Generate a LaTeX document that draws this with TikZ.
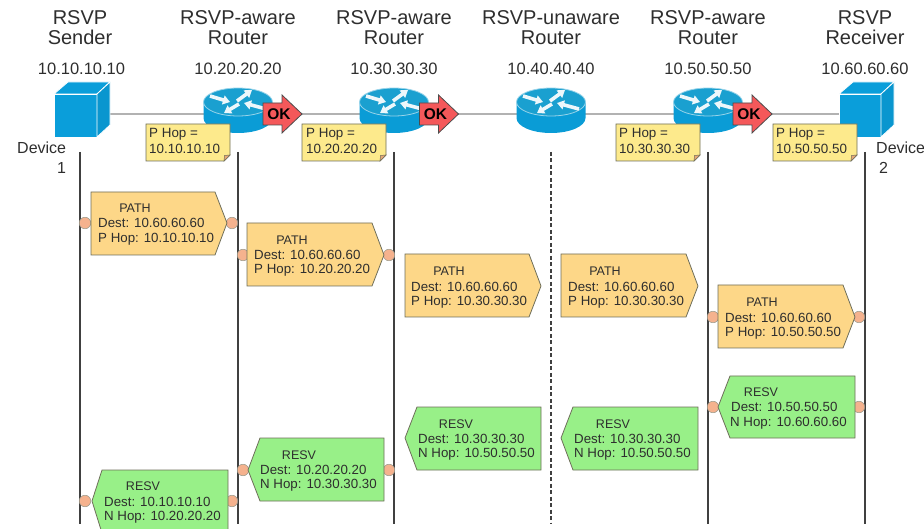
\documentclass[tikz,border=0pt]{standalone}
\usepackage{fontspec}
\usetikzlibrary{arrows.meta}
\setmainfont{Liberation Sans}
\newlength{\du}
\setlength{\du}{1pt}
\definecolor{routerside}{HTML}{0A9CD6}
\definecolor{routertop}{HTML}{1AA0D0}
\definecolor{cubeface}{HTML}{0A9EDA}
\definecolor{okred}{HTML}{F4585A}
\definecolor{notefill}{HTML}{FDEA8C}
\definecolor{foldfill}{HTML}{E8A878}
\definecolor{pathfill}{HTML}{FDD788}
\definecolor{resvfill}{HTML}{98F088}
\definecolor{portfill}{HTML}{F5B28E}
\definecolor{boxline}{HTML}{6E6E5A}
\definecolor{labelgray}{HTML}{2E2E2E}
\tikzset{
  header/.style={inner sep=0pt,align=center,text=labelgray,font=\fontsize{20}{20}\selectfont},
  address/.style={inner sep=0pt,text=labelgray,font=\fontsize{16.5}{18}\selectfont},
  devicelabel/.style={inner sep=0pt,text=labelgray,font=\fontsize{16}{18}\selectfont},
  notetext/.style={inner sep=0pt,anchor=west,text=labelgray,font=\fontsize{13.4}{14}\selectfont},
  boxtext/.style={inner sep=0pt,anchor=west,text=labelgray,font=\fontsize{13.3}{14}\selectfont},
  boxtitle/.style={inner sep=0pt,text=labelgray,font=\fontsize{12.5}{14}\selectfont},
  port/.style={circle,draw=boxline!70,line width=0.5\du,fill=portfill,minimum size=11.500000\du,inner sep=0pt},
  lifeline/.style={draw=black!75,line width=1.6\du},
  link/.style={draw=black!30,line width=2.4\du},
  pathbox/.style={draw=boxline,line width=0.8\du,fill=pathfill},
  resvbox/.style={draw=boxline,line width=0.8\du,fill=resvfill},
  notebox/.style={draw=boxline,line width=0.8\du,fill=notefill},
  routerarrow/.style={draw=white!92!routertop,line width=3.6\du,-{Triangle[width=9pt,length=7pt]}},
  routerpic/.pic={
    \fill[routerside] (-34.500000\du,0\du)--(-34.500000\du,-16\du) arc[start angle=180,end angle=360,x radius=34.500000\du,y radius=15\du]--(34.500000\du,0\du)--cycle;
    \draw[fill=routertop,draw=white!55!routertop,line width=0.8\du] (0\du,0\du) ellipse[x radius=34.500000\du,y radius=14\du];
    \draw[routerarrow] (-28\du,6\du)--(-8\du,0\du);
    \draw[routerarrow] (28\du,-7\du)--(6\du,-1\du);
    \draw[routerarrow] (-1\du,1\du)--(14\du,12\du);
    \draw[routerarrow] (1\du,-2\du)--(-14\du,-11\du);
  },
  okpic/.pic={
    \draw[fill=okred,draw=black!70,line width=0.8\du] (0\du,-11\du)--(19\du,-11\du)--(19\du,-19\du)--(39\du,0\du)--(19\du,19\du)--(19\du,11\du)--(0\du,11\du)--cycle;
    \node[inner sep=0pt,text=black,font=\bfseries\fontsize{15.5}{16}\selectfont] at (16\du,0\du){OK};
  },
  notepic/.pic={
    \draw[notebox] (0\du,0\du)--(84\du,0\du)--(84\du,-31\du)--(78\du,-37\du)--(0\du,-37\du)--cycle;
    \draw[fill=foldfill,draw=boxline,line width=0.5\du] (84\du,-31\du)--(78.500000\du,-31.500000\du)--(78\du,-37\du)--cycle;
  }
}

\begin{document}
\begin{tikzpicture}
\pgftransformxscale{1.000000}
\pgftransformyscale{-1.000000}
\clip (0\du,0\du) rectangle (924\du,529\du);

% lifelines
\coordinate (lineAtop) at (80\du,152\du);
\coordinate (lineAbot) at (80\du,524\du);
\coordinate (lineBtop) at (238\du,152\du);
\coordinate (lineBbot) at (238\du,524\du);
\coordinate (lineCtop) at (394\du,152\du);
\coordinate (lineCbot) at (394\du,524\du);
\coordinate (lineDtop) at (551\du,152\du);
\coordinate (lineDbot) at (551\du,524\du);
\coordinate (lineEtop) at (708\du,152\du);
\coordinate (lineEbot) at (708\du,524\du);
\coordinate (lineFtop) at (865\du,152\du);
\coordinate (lineFbot) at (865\du,524\du);
\draw[lifeline] (lineAtop)--(lineAbot);
\draw[lifeline] (lineBtop)--(lineBbot);
\draw[lifeline] (lineCtop)--(lineCbot);
\draw[lifeline,dash pattern=on 4\du off 2.500000\du] (lineDtop)--(lineDbot);
\draw[lifeline] (lineEtop)--(lineEbot);
\draw[lifeline] (lineFtop)--(lineFbot);

% link behind the devices
\coordinate (senderlink) at (100\du,114\du);
\coordinate (receiverlink) at (860\du,114\du);
\draw[link] (senderlink)--(receiverlink);

% devices
\draw[fill=cubeface,draw=white,line width=0.8\du] (54\du,94\du)--(97\du,94\du)--(97\du,137\du)--(54\du,137\du)--cycle;
\draw[fill=cubeface,draw=white,line width=0.8\du] (54\du,94\du)--(68\du,82\du)--(110\du,82\du)--(97\du,94\du)--cycle;
\draw[fill=cubeface!95!black,draw=white,line width=0.8\du] (97\du,94\du)--(110\du,82\du)--(110\du,125\du)--(97\du,137\du)--cycle;
\draw[fill=cubeface,draw=white,line width=0.8\du] (839\du,94\du)--(881\du,94\du)--(881\du,137\du)--(839\du,137\du)--cycle;
\draw[fill=cubeface,draw=white,line width=0.8\du] (839\du,94\du)--(853\du,82\du)--(894\du,82\du)--(881\du,94\du)--cycle;
\draw[fill=cubeface!95!black,draw=white,line width=0.8\du] (881\du,94\du)--(894\du,82\du)--(894\du,125\du)--(881\du,137\du)--cycle;

% routers
\pic at (238\du,102\du) {routerpic};
\pic at (394\du,102\du) {routerpic};
\pic at (551\du,102\du) {routerpic};
\pic at (708\du,102\du) {routerpic};
\pic at (263\du,114\du) {okpic};
\pic at (419.500000\du,114\du) {okpic};
\pic at (733\du,114\du) {okpic};

% headers
\node[header] (titleA) at (80\du,28\du){RSVP\\Sender};
\node[header] (titleB) at (238\du,28\du){RSVP-aware\\Router};
\node[header] (titleC) at (394\du,28\du){RSVP-aware\\Router};
\node[header] (titleD) at (551\du,28\du){RSVP-unaware\\Router};
\node[header] (titleE) at (708\du,28\du){RSVP-aware\\Router};
\node[header] (titleF) at (865\du,28\du){RSVP\\Receiver};
\node[address] (addrA) at (81.500000\du,69\du){10.10.10.10};
\node[address] (addrB) at (238\du,69\du){10.20.20.20};
\node[address] (addrC) at (394\du,69\du){10.30.30.30};
\node[address] (addrD) at (551\du,69\du){10.40.40.40};
\node[address] (addrE) at (708\du,69\du){10.50.50.50};
\node[address] (addrF) at (865\du,69\du){10.60.60.60};
\node[devicelabel,anchor=west] (deviceA) at (17\du,148\du){Device};
\node[devicelabel,anchor=west] (deviceAnum) at (57\du,168\du){1};
\node[devicelabel,anchor=west] (deviceB) at (876\du,148\du){Device};
\node[devicelabel,anchor=west] (deviceBnum) at (879\du,168\du){2};

% P Hop notes
\pic at (146\du,124\du) {notepic};
\node[notetext] (noteAa) at (149\du,134\du){P Hop =};
\node[notetext] (noteAb) at (149\du,149\du){10.10.10.10};
\pic at (302\du,124\du) {notepic};
\node[notetext] (noteBa) at (306\du,134\du){P Hop =};
\node[notetext] (noteBb) at (306\du,149\du){10.20.20.20};
\pic at (616\du,124\du) {notepic};
\node[notetext] (noteCa) at (619\du,134\du){P Hop =};
\node[notetext] (noteCb) at (619\du,149\du){10.30.30.30};
\pic at (773\du,124\du) {notepic};
\node[notetext] (noteDa) at (776\du,134\du){P Hop =};
\node[notetext] (noteDb) at (776\du,149\du){10.50.50.50};

% PATH messages
\node[port] (pathAin) at (85\du,223\du){};
\node[port] (pathAout) at (232\du,223\du){};
\draw[pathbox] (91\du,192\du)--(215\du,192\du)--(227\du,223\du)--(215\du,255\du)--(91\du,255\du)--cycle;
\node[boxtitle] (pathAtitle) at (135\du,208\du){PATH};
\node[boxtext] (pathAdest) at (98\du,223\du){Dest: 10.60.60.60};
\node[boxtext] (pathAhop) at (98\du,239\du){P Hop: 10.10.10.10};

\node[port] (pathBin) at (243\du,255\du){};
\node[port] (pathBout) at (389\du,255\du){};
\draw[pathbox] (247\du,223\du)--(372\du,223\du)--(384\du,255\du)--(372\du,286\du)--(247\du,286\du)--cycle;
\node[boxtitle] (pathBtitle) at (292\du,240\du){PATH};
\node[boxtext] (pathBdest) at (254\du,255\du){Dest: 10.60.60.60};
\node[boxtext] (pathBhop) at (254\du,270\du){P Hop: 10.20.20.20};

\draw[pathbox] (405\du,254\du)--(529\du,254\du)--(541\du,286\du)--(529\du,317\du)--(405\du,317\du)--cycle;
\node[boxtitle] (pathCtitle) at (449\du,271\du){PATH};
\node[boxtext] (pathCdest) at (411\du,287\du){Dest: 10.60.60.60};
\node[boxtext] (pathChop) at (411\du,302\du){P Hop: 10.30.30.30};

\draw[pathbox] (561\du,254\du)--(686\du,254\du)--(698\du,286\du)--(686\du,317\du)--(561\du,317\du)--cycle;
\node[boxtitle] (pathDtitle) at (605\du,271\du){PATH};
\node[boxtext] (pathDdest) at (568\du,287\du){Dest: 10.60.60.60};
\node[boxtext] (pathDhop) at (568\du,302\du){P Hop: 10.30.30.30};

\node[port] (pathEin) at (713\du,317\du){};
\node[port] (pathEout) at (859\du,317\du){};
\draw[pathbox] (718\du,285\du)--(843\du,285\du)--(855\du,317\du)--(843\du,348\du)--(718\du,348\du)--cycle;
\node[boxtitle] (pathEtitle) at (762\du,302\du){PATH};
\node[boxtext] (pathEdest) at (725\du,318\du){Dest: 10.60.60.60};
\node[boxtext] (pathEhop) at (725\du,333\du){P Hop: 10.50.50.50};

% RESV messages
\node[port] (resvEin) at (713\du,407\du){};
\node[port] (resvEout) at (859\du,407\du){};
\draw[resvbox] (718\du,407\du)--(730\du,376\du)--(855\du,376\du)--(855\du,438\du)--(730\du,438\du)--cycle;
\node[boxtitle] (resvEtitle) at (761\du,392\du){RESV};
\node[boxtext] (resvEdest) at (731\du,407\du){Dest: 10.50.50.50};
\node[boxtext] (resvEhop) at (730\du,423\du){N Hop: 10.60.60.60};

\draw[resvbox] (561\du,438\du)--(573\du,407\du)--(698\du,407\du)--(698\du,470\du)--(573\du,470\du)--cycle;
\node[boxtitle] (resvDtitle) at (613\du,424\du){RESV};
\node[boxtext] (resvDdest) at (574\du,439\du){Dest: 10.30.30.30};
\node[boxtext] (resvDhop) at (574\du,454\du){N Hop: 10.50.50.50};

\draw[resvbox] (405\du,438\du)--(417\du,407\du)--(541\du,407\du)--(541\du,470\du)--(417\du,470\du)--cycle;
\node[boxtitle] (resvCtitle) at (456\du,424\du){RESV};
\node[boxtext] (resvCdest) at (418\du,439\du){Dest: 10.30.30.30};
\node[boxtext] (resvChop) at (418\du,454\du){N Hop: 10.50.50.50};

\node[port] (resvBin) at (243\du,470\du){};
\node[port] (resvBout) at (389\du,470\du){};
\draw[resvbox] (248\du,470\du)--(260\du,438\du)--(384\du,438\du)--(384\du,501\du)--(260\du,501\du)--cycle;
\node[boxtitle] (resvBtitle) at (299\du,455\du){RESV};
\node[boxtext] (resvBdest) at (260\du,470\du){Dest: 10.20.20.20};
\node[boxtext] (resvBhop) at (260\du,485\du){N Hop: 10.30.30.30};

\node[port] (resvAin) at (85\du,501\du){};
\node[port] (resvAout) at (232\du,501\du){};
\draw[resvbox] (92\du,501\du)--(102\du,470\du)--(228\du,470\du)--(228\du,533\du)--(102\du,533\du)--cycle;
\node[boxtitle] (resvAtitle) at (143\du,486\du){RESV};
\node[boxtext] (resvAdest) at (104\du,502\du){Dest: 10.10.10.10};
\node[boxtext] (resvAhop) at (104\du,517\du){N Hop: 10.20.20.20};

\end{tikzpicture}
\end{document}
